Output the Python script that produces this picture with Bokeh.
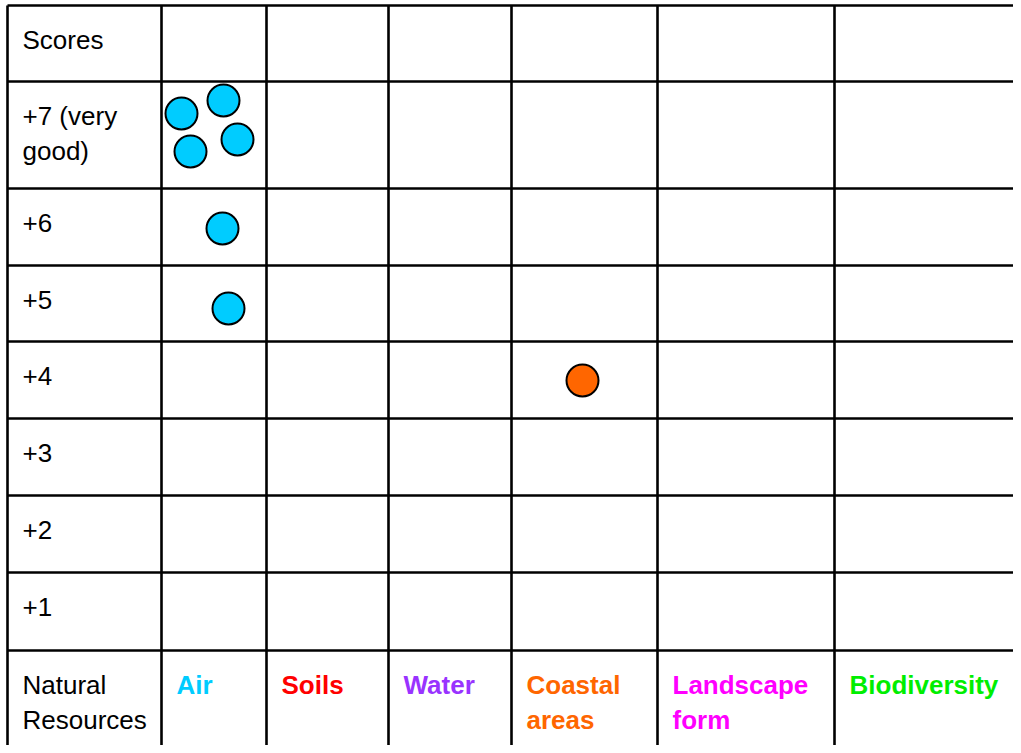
from bokeh.plotting import figure
from bokeh.models import Range1d, ColumnDataSource
from bokeh.core.properties import value
from bokeh.embed import file_html
from bokeh.resources import INLINE

# ---------------- data ----------------
resources = ["Air", "Soils", "Water", "Coastal areas", "Landscape form", "Biodiversity"]
resource_colors = ["#00CCFF", "#FF0000", "#9933FF", "#FF6600", "#FF00FF", "#00EE00"]
scores = [7, 6, 5, 4, 3, 2, 1]
score_labels = ["+7 (very\ngood)", "+6", "+5", "+4", "+3", "+2", "+1"]
header_label = "Scores"
footer_label = "Natural\nResources"

# assessments: (resource, score) one per dot
point_resource = ["Air", "Air", "Air", "Air", "Air", "Air", "Coastal areas"]
point_score = [7, 7, 7, 7, 6, 5, 4]

# ---------------- layout (pixels) ----------------
W, H = 1013, 745
col_edges = [7, 161, 266, 388, 511, 657, 834, 1040]
row_edges = [5, 81, 188, 265, 341, 418, 495, 572, 650, 770]
# small offsets inside a cell so that several dots in one cell do not overlap
dot_dx = [-32.5, 9.5, 23.5, -23.5, 8.5, 14.5, -2]
dot_dy = [-21.5, -34.5, 4.5, 16.5, 1.5, 5, 0.5]
pad_x = 15
first_base = 34
line_step = 35
FONT = "Liberation Sans"
FS = "26px"

p = figure(width=W, height=H, output_backend="svg", toolbar_location=None,
           x_range=Range1d(0, W), y_range=Range1d(H, 0), min_border=0)
p.axis.visible = False
p.grid.visible = False
p.outline_line_color = None
p.background_fill_color = "white"
p.border_fill_color = "white"

# grid lines
lw = 2.6
vx0, vx1, vy0, vy1 = [], [], [], []
for x in col_edges[:-1]:
    vx0.append(x); vx1.append(x); vy0.append(row_edges[0]); vy1.append(row_edges[-1])
for y in row_edges[:-1]:
    vx0.append(col_edges[0]); vx1.append(col_edges[-1]); vy0.append(y); vy1.append(y)
p.segment(vx0, vy0, vx1, vy1, line_color="black", line_width=lw)

# text labels
tx, ty, tt, tc, tb = [], [], [], [], []
def add_label(col, row, label, color, bold):
    for k, ln in enumerate(label.split("\n")):
        tx.append(col_edges[col] + pad_x)
        ty.append(row_edges[row] + first_base + k * line_step)
        tt.append(ln)
        tc.append(color)
        tb.append("bold" if bold else "normal")

add_label(0, 0, header_label, "black", False)
for i, lab in enumerate(score_labels):
    add_label(0, i + 1, lab, "black", False)
add_label(0, len(scores) + 1, footer_label, "black", False)
for j, (r, c) in enumerate(zip(resources, resource_colors)):
    add_label(j + 1, len(scores) + 1, r.replace(" ", "\n"), c, True)

src = ColumnDataSource(dict(x=tx, y=ty, text=tt, color=tc, style=tb))
p.text(x="x", y="y", text="text", text_color="color", text_font_style="style",
       source=src, text_font=value(FONT), text_font_size=FS,
       text_baseline="alphabetic", text_align="left")

# dots
px, py, pc = [], [], []
for k, (r, s) in enumerate(zip(point_resource, point_score)):
    ci = resources.index(r) + 1
    ri = scores.index(s) + 1
    cx = (col_edges[ci] + col_edges[ci + 1]) / 2
    cy = (row_edges[ri] + row_edges[ri + 1]) / 2
    px.append(cx + dot_dx[k]); py.append(cy + dot_dy[k])
    pc.append(resource_colors[resources.index(r)])
p.scatter(px, py, size=32, fill_color=pc, line_color="black", line_width=2)

open("out.html", "w").write(file_html(p, INLINE))
